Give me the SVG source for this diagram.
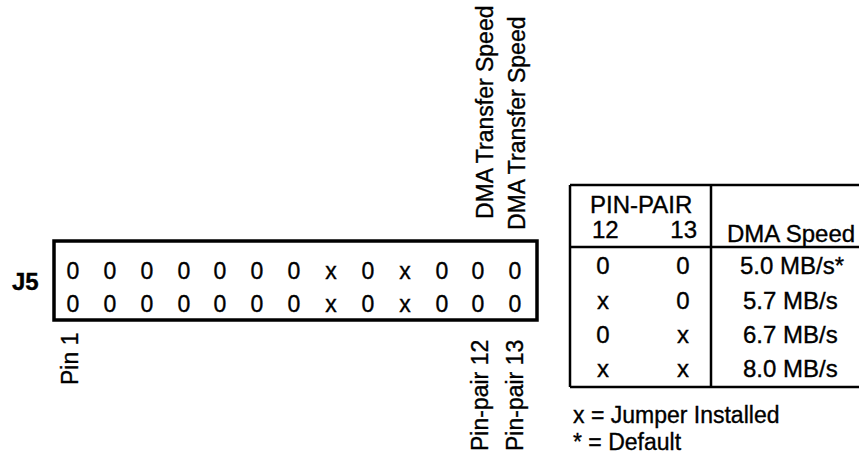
<svg xmlns="http://www.w3.org/2000/svg" width="859" height="458" viewBox="0 0 859 458">
<style>
text{font-family:"Liberation Sans",Arial,sans-serif;fill:#000;stroke:#000;stroke-width:0.35}
.pin{font-size:23px;text-anchor:middle}
.lbl{font-size:23px}
.tb{font-size:24px}
.lg{font-size:23px}
.mid{text-anchor:middle}
.ln{stroke:#000;stroke-width:2.5;fill:none}
</style>
<rect width="859" height="458" fill="#fff"/>
<g id="j5">
<text x="12" y="290" font-size="24" font-weight="bold">J5</text>
<rect x="54" y="241" width="483" height="79" fill="none" stroke="#000" stroke-width="3.5"/>
<g class="pin">
<text x="73" y="279" class="pin">0</text><text x="110" y="279" class="pin">0</text><text x="147" y="279" class="pin">0</text><text x="184" y="279" class="pin">0</text><text x="220" y="279" class="pin">0</text><text x="257" y="279" class="pin">0</text><text x="294" y="279" class="pin">0</text><text x="331" y="279" class="pin">x</text><text x="368" y="279" class="pin">0</text><text x="405" y="279" class="pin">x</text><text x="442" y="279" class="pin">0</text><text x="478" y="279" class="pin">0</text><text x="515" y="279" class="pin">0</text>
<text x="73" y="312" class="pin">0</text><text x="110" y="312" class="pin">0</text><text x="147" y="312" class="pin">0</text><text x="184" y="312" class="pin">0</text><text x="220" y="312" class="pin">0</text><text x="257" y="312" class="pin">0</text><text x="294" y="312" class="pin">0</text><text x="331" y="312" class="pin">x</text><text x="368" y="312" class="pin">0</text><text x="405" y="312" class="pin">x</text><text x="442" y="312" class="pin">0</text><text x="478" y="312" class="pin">0</text><text x="515" y="312" class="pin">0</text>
</g>
</g>
<g id="labels">
<text class="lbl" transform="translate(78,385) rotate(-90)">Pin 1</text>
<text class="lbl" transform="translate(488,451) rotate(-90)">Pin-pair 12</text>
<text class="lbl" transform="translate(523,451) rotate(-90)">Pin-pair 13</text>
<text class="lbl" transform="translate(493,219) rotate(-90)">DMA Transfer Speed</text>
<text class="lbl" transform="translate(525,230) rotate(-90)">DMA Transfer Speed</text>
</g>
<g id="table">
<path class="ln" d="M570,185 H859 M570,247 H859 M570,387 H859 M570,185 V387 M711,185 V387"/>
<text class="tb" x="590" y="213">PIN-PAIR</text>
<text class="tb" x="592" y="238">12</text>
<text class="tb" x="697" y="238" text-anchor="end">13</text>
<text class="tb" x="727" y="242">DMA Speed</text>
<g class="tb">
<text class="mid" x="603" y="274">0</text><text class="mid" x="683" y="274">0</text><text x="740" y="274">5.0 MB/s*</text>
<text class="mid" x="603" y="309">x</text><text class="mid" x="683" y="309">0</text><text x="743" y="309">5.7 MB/s</text>
<text class="mid" x="603" y="343">0</text><text class="mid" x="683" y="343">x</text><text x="743" y="343">6.7 MB/s</text>
<text class="mid" x="603" y="377">x</text><text class="mid" x="683" y="377">x</text><text x="743" y="377">8.0 MB/s</text>
</g>
</g>
<g id="legend">
<text class="lg" x="573" y="423">x = Jumper Installed</text>
<text class="lg" x="573" y="450">* = Default</text>
</g>
<g id="connectors"/>
</svg>
